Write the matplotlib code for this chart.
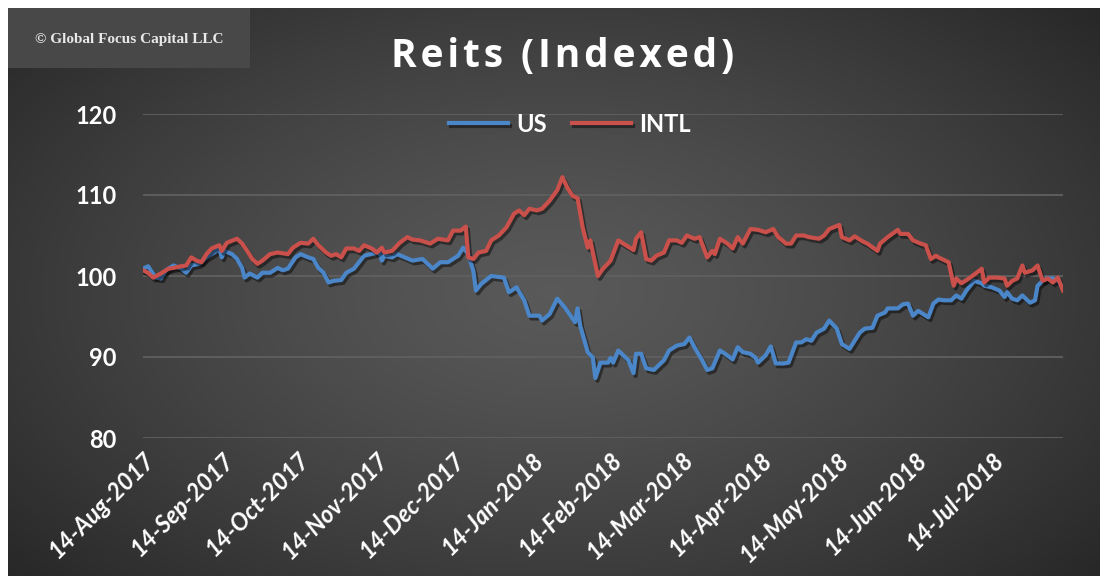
import numpy as np
import pandas as pd
import matplotlib
matplotlib.use('Agg')
import matplotlib.pyplot as plt
import matplotlib.patheffects as pe
import matplotlib.dates as mdates
from matplotlib.patches import Rectangle

# days since 14-Aug-2017 and index values
us_days = [0, 2, 5, 7, 9, 12, 15, 17, 19, 22, 25, 28, 30, 31, 32, 35, 37, 39, 40, 42,
           45, 47, 50, 53, 55, 57, 60, 62, 65, 67, 69, 71, 73, 75, 78, 80, 83, 85, 87, 91,
           93, 94, 95, 98, 100, 103, 106, 108, 110, 114, 117, 120, 122, 124, 126, 128, 130, 131, 133, 137,
           142, 144, 147, 150, 152, 156, 157, 160, 163, 166, 170, 171, 172, 175, 177, 178, 180, 183, 184, 185,
           187, 191, 193, 194, 196, 198, 201, 205, 207, 210, 213, 215, 217, 220, 222, 224, 227, 229, 232, 234,
           236, 239, 241, 242, 245, 247, 249, 252, 254, 257, 259, 261, 263, 265, 268, 270, 273, 275, 278, 280,
           282, 284, 287, 289, 292, 293, 297, 299, 301, 303, 305, 309, 311, 313, 315, 318, 320, 322, 324, 327,
           330, 331, 334, 337, 339, 340, 342, 344, 346, 349, 351, 352, 355, 358, 360, 362]
us_vals = [100.9, 101.2, 99.8, 99.7, 100.7, 101.3, 100.9, 100.4, 101.3, 101.5, 102.3, 102.9, 103.4, 102.3, 103.1, 102.7, 102.1, 101.0, 99.8, 100.3,
           99.8, 100.4, 100.4, 101.0, 100.7, 100.9, 102.3, 102.7, 102.3, 102.1, 101.0, 100.4, 99.2, 99.4, 99.5, 100.4, 100.9, 101.7, 102.5, 102.8,
           102.9, 101.9, 102.5, 102.3, 102.7, 102.3, 101.9, 102.0, 102.1, 100.9, 101.7, 101.7, 102.1, 102.5, 103.5, 102.7, 100.6, 98.2, 99.0, 100.0,
           99.8, 98.0, 98.6, 97.0, 95.1, 95.1, 94.5, 95.3, 97.2, 96.1, 94.3, 96.0, 93.9, 90.6, 89.9, 87.4, 89.3, 89.3, 89.9, 89.3,
           90.8, 89.6, 88.0, 90.4, 90.4, 88.6, 88.4, 89.6, 90.8, 91.4, 91.6, 92.4, 91.2, 89.6, 88.4, 88.6, 90.8, 90.4, 89.7, 91.2,
           90.6, 90.4, 89.9, 89.3, 90.2, 91.3, 89.2, 89.2, 89.3, 91.8, 91.8, 92.2, 92.0, 93.0, 93.5, 94.5, 93.5, 91.6, 91.0, 92.0,
           93.0, 93.5, 93.6, 95.1, 95.5, 96.0, 96.0, 96.5, 96.6, 95.1, 95.7, 94.9, 96.6, 97.1, 97.0, 97.0, 97.6, 97.2, 98.2, 99.4,
           99.1, 98.8, 98.6, 98.2, 97.4, 98.0, 97.2, 97.0, 97.6, 96.7, 97.0, 98.8, 99.7, 99.7, 99.4, 98.6]

intl_days = [0, 2, 3, 4, 7, 10, 12, 15, 17, 19, 21, 23, 25, 27, 30, 31, 33, 37, 39, 41,
             43, 45, 47, 50, 53, 55, 57, 59, 62, 65, 67, 69, 72, 74, 76, 78, 80, 83, 85, 87,
             90, 92, 94, 95, 98, 101, 104, 106, 109, 113, 116, 120, 122, 125, 127, 128, 130, 132, 135, 137,
             140, 143, 146, 148, 150, 152, 155, 157, 160, 163, 165, 167, 169, 171, 173, 175, 176, 177, 179, 181,
             184, 187, 189, 193, 194, 196, 198, 200, 202, 205, 207, 210, 212, 214, 217, 219, 222, 224, 225, 227,
             230, 232, 234, 236, 239, 242, 245, 248, 250, 253, 255, 257, 260, 262, 266, 268, 270, 274, 275, 278,
             280, 283, 285, 289, 290, 293, 297, 298, 301, 303, 306, 308, 310, 312, 313, 317, 319, 320, 322, 325,
             328, 330, 331, 333, 336, 339, 340, 342, 344, 346, 347, 350, 352, 354, 356, 358, 360, 362]
intl_vals = [100.7, 100.4, 100.1, 99.8, 100.3, 100.9, 101.0, 101.2, 101.3, 102.3, 101.9, 101.7, 102.7, 103.4, 103.8, 103.1, 104.1, 104.6, 104.0, 103.1,
             102.1, 101.5, 101.9, 102.7, 102.9, 102.8, 102.7, 103.5, 104.1, 104.0, 104.6, 103.8, 102.9, 102.5, 102.7, 102.3, 103.4, 103.4, 103.1, 103.8,
             103.4, 102.9, 103.5, 102.9, 103.1, 104.1, 104.8, 104.5, 104.4, 104.0, 104.6, 104.4, 105.6, 105.6, 106.1, 102.3, 102.1, 102.9, 103.1, 104.4,
             105.0, 106.0, 107.7, 108.1, 107.5, 108.3, 108.1, 108.3, 109.3, 110.6, 112.2, 110.9, 109.9, 109.6, 106.0, 103.5, 104.4, 102.9, 100.0, 100.9,
             101.9, 104.4, 104.0, 103.2, 104.6, 105.4, 102.1, 101.9, 102.5, 102.9, 104.4, 104.4, 104.1, 105.0, 104.6, 104.8, 102.3, 103.1, 102.7, 104.6,
             104.0, 103.4, 104.8, 104.0, 105.8, 105.7, 105.4, 105.8, 104.8, 104.0, 104.0, 105.0, 105.0, 104.8, 104.6, 105.0, 105.8, 106.3, 104.8, 104.4,
             104.9, 104.3, 104.0, 103.1, 104.0, 104.8, 105.7, 105.2, 105.2, 104.4, 104.0, 103.8, 102.1, 102.5, 102.3, 101.7, 98.8, 99.7, 99.1, 99.7,
             100.4, 100.9, 99.2, 99.8, 99.8, 99.7, 98.8, 99.4, 99.7, 101.3, 100.4, 100.7, 101.3, 99.4, 99.7, 99.2, 99.8, 98.2]

start = pd.Timestamp('2017-08-14')
us_dates = start + pd.to_timedelta(us_days, unit='D')
intl_dates = start + pd.to_timedelta(intl_days, unit='D')
tick_dates = pd.date_range('2017-08-14', periods=12, freq=pd.DateOffset(months=1))

W, H = 1106, 580
fig = plt.figure(figsize=(W / 100, H / 100), dpi=100)
fig.patch.set_facecolor('white')

# dark radial gradient background
bg = fig.add_axes([8 / W, 4 / H, 1092 / W, 568 / H])
yy, xx = np.mgrid[-1:1:300j, -1:1:500j]
r = np.sqrt((xx * 0.95) ** 2 + (yy * 0.85) ** 2)
shade = 0.35 - 0.19 * np.clip(r / 1.25, 0, 1) ** 1.3
bg.imshow(np.dstack([shade] * 3), aspect='auto', extent=[0, 1, 0, 1], interpolation='bilinear')
bg.axis('off')

fig.patches.append(Rectangle((8 / W, 1 - 68 / H), 242 / W, 60 / H, transform=fig.transFigure,
                             facecolor='#484848', edgecolor='none', zorder=1))
fig.text(129 / W, 1 - 40 / H, '\u00a9 Global Focus Capital LLC', color='#e8e8e8', fontsize=11,
         fontweight='bold', family='Liberation Serif', ha='center', va='center')

title = '\u200a'.join('Reits (Indexed)')
fig.text(563 / W, 1 - 57 / H, title, color='white', fontsize=28, fontweight='bold',
         family=['Open Sans', 'DejaVu Sans'], ha='center', va='center')

ax = fig.add_axes([143 / W, 1 - 438 / H, 920 / W, 324 / H])
ax.set_facecolor('none')

shadow = [pe.SimpleLineShadow(offset=(1.5, -2), shadow_color='black', alpha=0.45), pe.Normal()]
ax.plot(us_dates, us_vals, color='#4a86c8', lw=3, label='US', path_effects=shadow, solid_joinstyle='round')
ax.plot(intl_dates, intl_vals, color='#c9504b', lw=3, label='INTL', path_effects=shadow, solid_joinstyle='round')

ax.set_ylim(80, 120)
ax.set_yticks([80, 90, 100, 110, 120])
ax.set_xlim(start, start + pd.Timedelta(days=362))
ax.set_xticks(tick_dates)
ax.xaxis.set_major_formatter(mdates.DateFormatter('%d-%b-%Y'))
ax.grid(axis='y', color='#606060', lw=1.3)
ax.set_axisbelow(True)
for s in ax.spines.values():
    s.set_visible(False)
ax.tick_params(axis='both', length=0, colors='white')
ax.tick_params(axis='y', pad=19)
ax.tick_params(axis='x', pad=7)
for lab in ax.get_yticklabels():
    lab.set_fontsize(17)
    lab.set_fontweight('bold')
    lab.set_family('Lato')
for lab in ax.get_xticklabels():
    lab.set_fontsize(17)
    lab.set_fontweight('bold')
    lab.set_fontstyle('italic')
    lab.set_family('Lato')
    lab.set_rotation(45)
    lab.set_ha('right')
    lab.set_rotation_mode('anchor')

leg = ax.legend(loc='center', bbox_to_anchor=(0.464, 0.969), ncol=2, frameon=False,
                handlelength=2.5, columnspacing=1.05, handletextpad=0.35,
                prop={'family': 'Lato', 'weight': 'bold', 'size': 17})
for t in leg.get_texts():
    t.set_color('white')

fig.savefig('out.png', dpi=100)
